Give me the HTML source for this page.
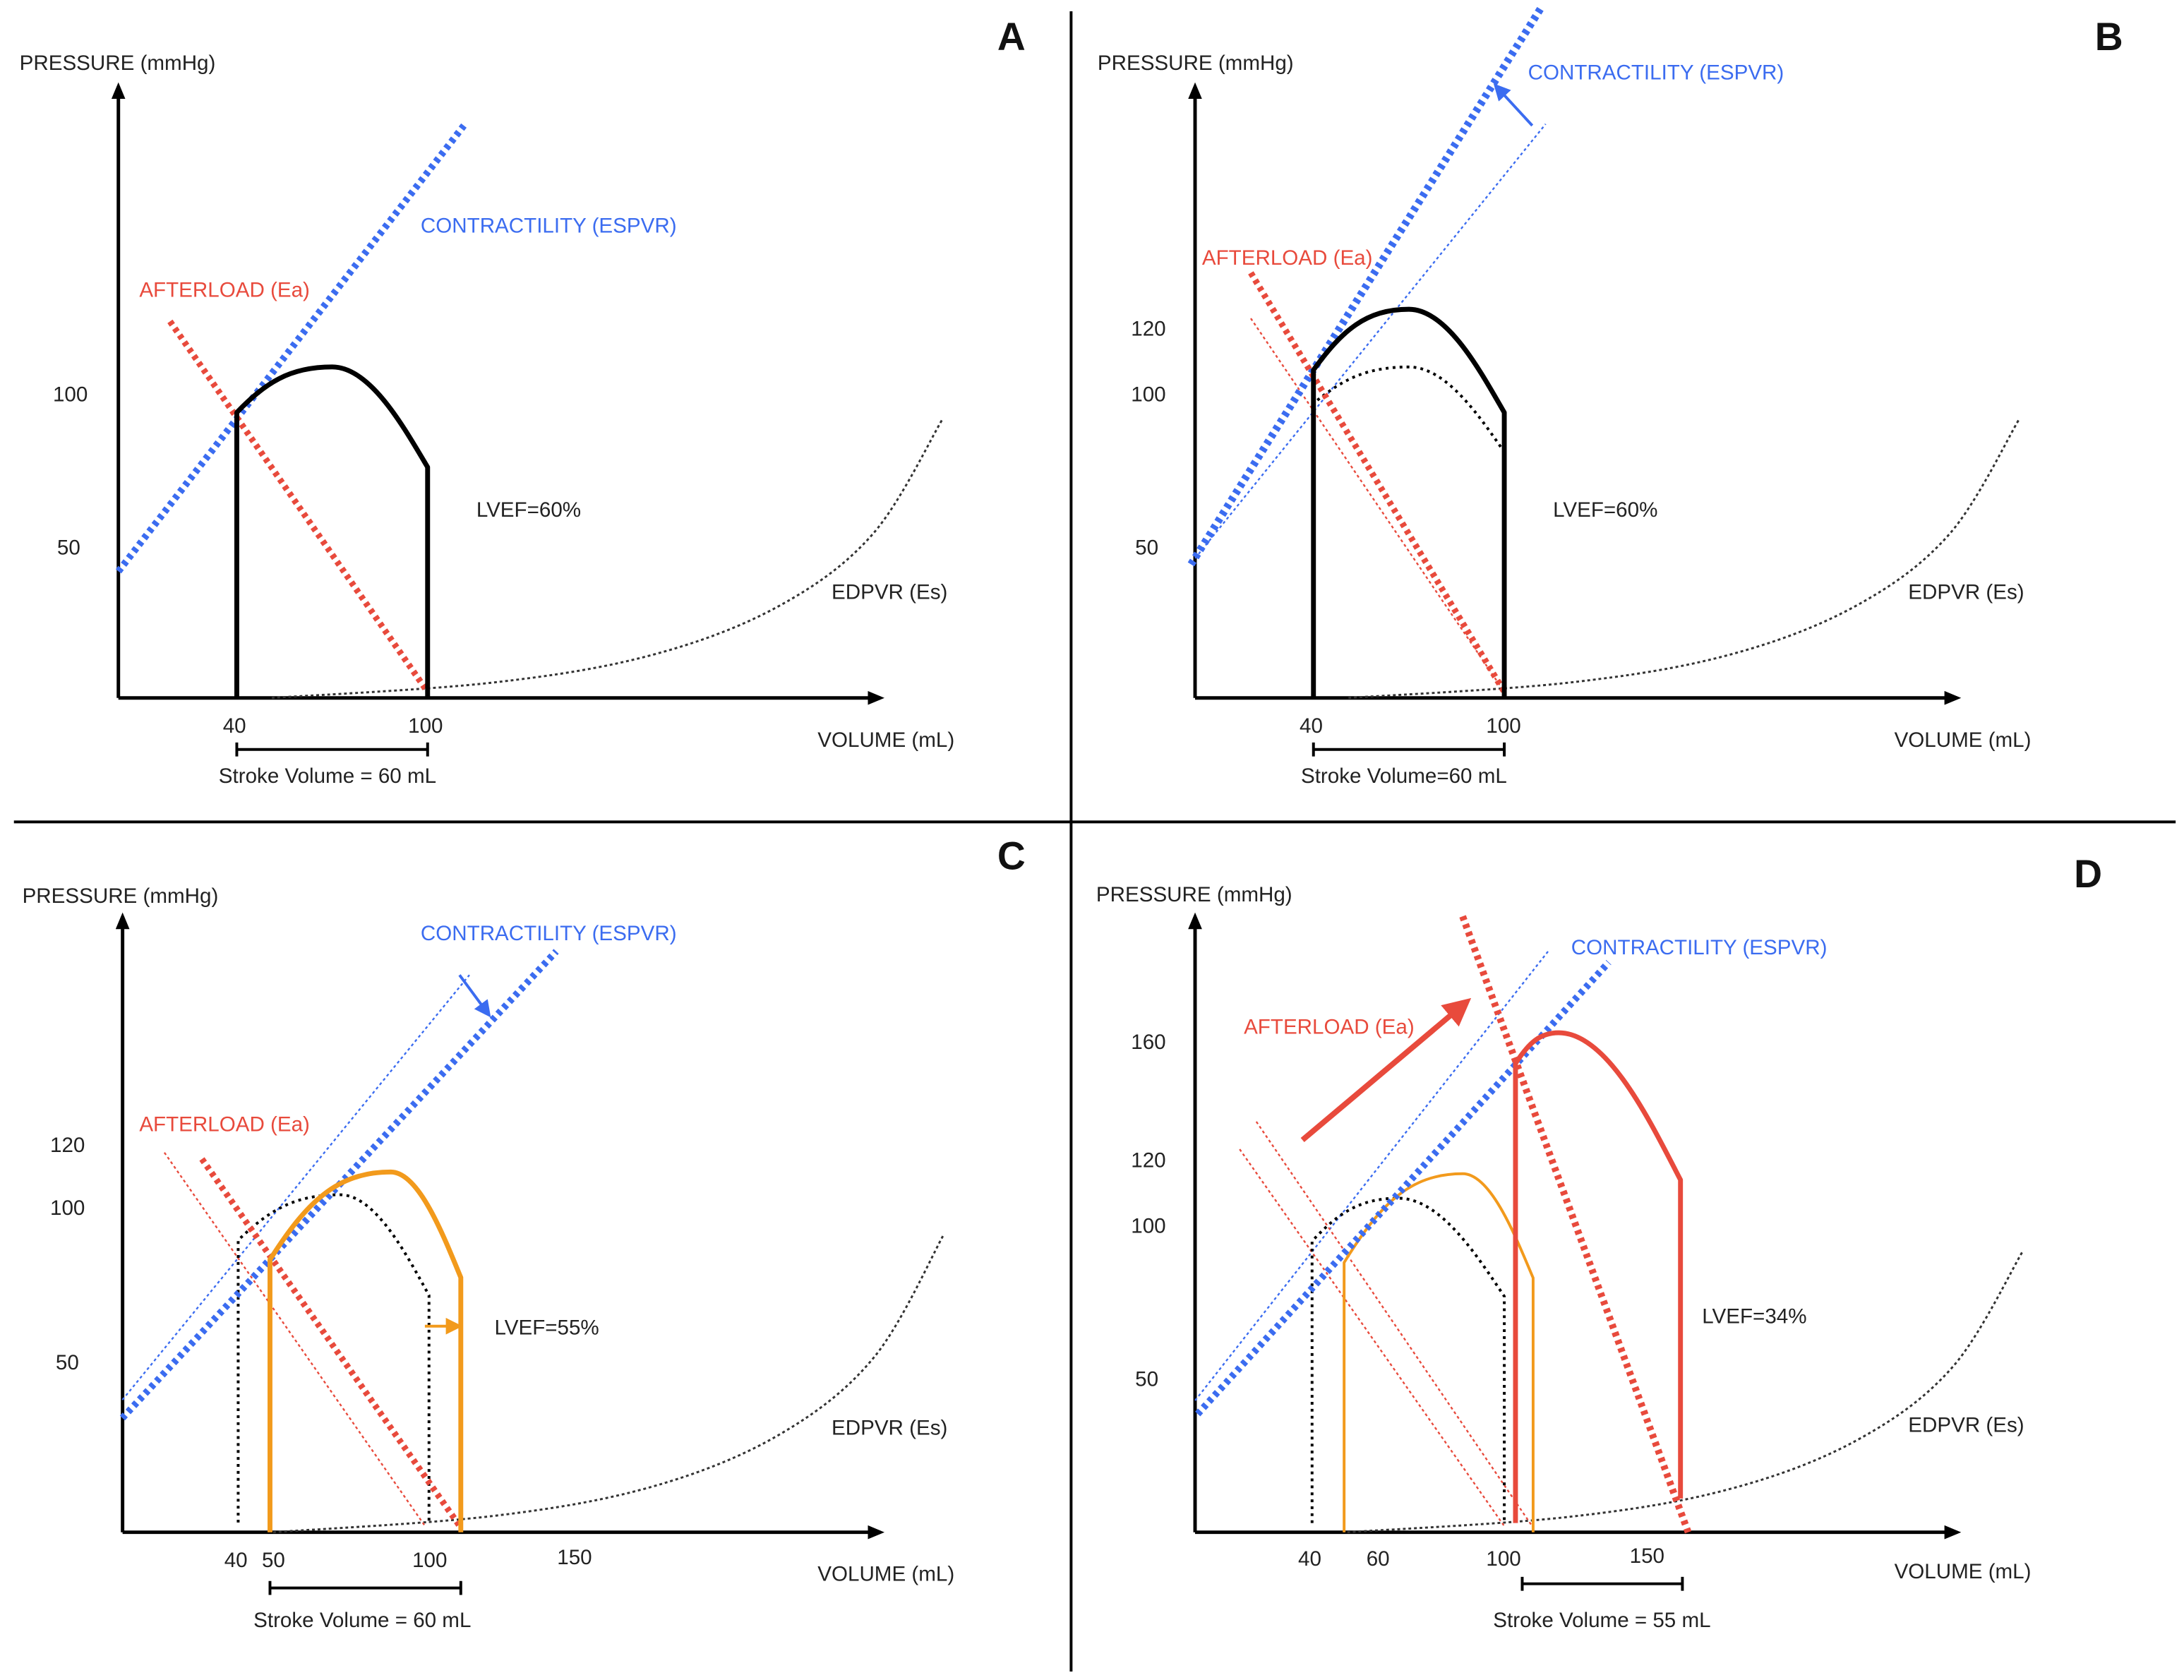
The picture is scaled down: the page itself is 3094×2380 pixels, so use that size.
<!DOCTYPE html>
<html><head><meta charset="utf-8">
<style>
html,body{margin:0;padding:0;background:#fff;}
svg{display:block;}
text{font-family:"Liberation Sans",sans-serif;font-size:15px;fill:#222;}
.blue{fill:#3b6cf0;} .red{fill:#e84a3c;}
.big{font-size:28px;font-weight:bold;fill:#111;}
</style></head>
<body>
<svg id="fig" width="3094" height="2380" viewBox="0 0 1568 1206" xmlns="http://www.w3.org/2000/svg">
<defs>
<marker id="ah" markerWidth="12" markerHeight="10" refX="9" refY="5" orient="auto" markerUnits="userSpaceOnUse"><path d="M0,0 L12,5 L0,10 z" fill="#000"/></marker>
<marker id="ahb" markerWidth="6" markerHeight="6" refX="4" refY="3" orient="auto"><path d="M0,0 L6,3 L0,6 z" fill="#3b6cf0"/></marker>
<marker id="aho" markerWidth="6" markerHeight="6" refX="4" refY="3" orient="auto"><path d="M0,0 L6,3 L0,6 z" fill="#f29a1c"/></marker>
<marker id="ahr" markerWidth="5" markerHeight="5" refX="3" refY="2.5" orient="auto"><path d="M0,0 L5,2.5 L0,5 z" fill="#e84a3c"/></marker>
</defs>
<line x1="769" y1="8" x2="769" y2="1200" stroke="#000" stroke-width="2"/>
<line x1="10" y1="590" x2="1562" y2="590" stroke="#000" stroke-width="2"/>
<g id="layer"></g>
<text x="14" y="50">PRESSURE (mmHg)</text>
<text class="big" x="716" y="36">A</text>
<text class="blue" x="302" y="167">CONTRACTILITY (ESPVR)</text>
<text class="red" x="100" y="213">AFTERLOAD (Ea)</text>
<text x="38" y="288">100</text>
<text x="41" y="398">50</text>
<text x="342" y="371">LVEF=60%</text>
<text x="597" y="430">EDPVR (Es)</text>
<text x="160" y="526">40</text>
<text x="293" y="526">100</text>
<text x="587" y="536">VOLUME (mL)</text>
<text x="157" y="562">Stroke Volume = 60 mL</text>
<text x="788" y="50">PRESSURE (mmHg)</text>
<text class="big" x="1504" y="36">B</text>
<text class="blue" x="1097" y="57">CONTRACTILITY (ESPVR)</text>
<text class="red" x="863" y="190">AFTERLOAD (Ea)</text>
<text x="812" y="241">120</text>
<text x="812" y="288">100</text>
<text x="815" y="398">50</text>
<text x="1115" y="371">LVEF=60%</text>
<text x="1370" y="430">EDPVR (Es)</text>
<text x="933" y="526">40</text>
<text x="1067" y="526">100</text>
<text x="1360" y="536">VOLUME (mL)</text>
<text x="934" y="562">Stroke Volume=60 mL</text>
<text x="16" y="648">PRESSURE (mmHg)</text>
<text class="big" x="716" y="624">C</text>
<text class="blue" x="302" y="675">CONTRACTILITY (ESPVR)</text>
<text class="red" x="100" y="812">AFTERLOAD (Ea)</text>
<text x="36" y="827">120</text>
<text x="36" y="872">100</text>
<text x="40" y="983">50</text>
<text x="355" y="958">LVEF=55%</text>
<text x="597" y="1030">EDPVR (Es)</text>
<text x="161" y="1125">40</text>
<text x="188" y="1125">50</text>
<text x="296" y="1125">100</text>
<text x="400" y="1123">150</text>
<text x="587" y="1135">VOLUME (mL)</text>
<text x="182" y="1168">Stroke Volume = 60 mL</text>
<text x="787" y="647">PRESSURE (mmHg)</text>
<text class="big" x="1489" y="637">D</text>
<text class="blue" x="1128" y="685">CONTRACTILITY (ESPVR)</text>
<text class="red" x="893" y="742">AFTERLOAD (Ea)</text>
<text x="812" y="753">160</text>
<text x="812" y="838">120</text>
<text x="812" y="885">100</text>
<text x="815" y="995">50</text>
<text x="1222" y="950">LVEF=34%</text>
<text x="1370" y="1028">EDPVR (Es)</text>
<text x="932" y="1124">40</text>
<text x="981" y="1124">60</text>
<text x="1067" y="1124">100</text>
<text x="1170" y="1122">150</text>
<text x="1360" y="1133">VOLUME (mL)</text>
<text x="1072" y="1168">Stroke Volume = 55 mL</text>
</svg>
<script>
// loops: [esv, pBottomLeft, pTopLeft, peakV, peakP, edv, pTopRight, pBottomRight]
const loopA = [40,0,94,70,109,100,76,0];
const loopB = [40,0,108,70,128,100,94,0];
const loopBprev = [40,0,97,70,109,100,81,0];
const loopC = [50,0,84,88,111,110,78.5,0];
const loopCprev = [40,3,90,72,104,100,73,3];
const loopD = [50,0,88,87,117,109,83,0];
const loopDprev = [40,3,95,67,109,100,77,3];
const loopDnew = [103.5,3,153,117,163,155,115,11];
// lines: [v1,p1,v2,p2]
const espvrA = [2.8,41.7,111.4,188.5];
const afterA = [19,124,100,2];
const espvrB = [1.5,44,112,228];
const espvrBprev = [2.8,46,113,189];
const afterB = [20.3,140,100,2];
const afterBprev = [20.3,125,100,2];
const espvrC = [3.6,35.2,140,179];
const espvrCprev = [3.6,40.8,112.7,171.7];
const afterC = [28.6,115,109.6,2];
const afterCprev = [16.8,117,98.7,2];
const espvrD = [4.3,38.6,132.6,186];
const espvrDprev = [3.5,43,114,190];
const afterD = [87,201,157.4,0];
const afterDprev1 = [17.4,125,100,2];
const afterDprev2 = [22.6,134,108.7,2];
// edpvr curves
const edpvrVol = [51,120,170,210,240,262];
const edpvrP = [0,5,14,30,54,92];
// arrows
const arrowB = [108.8,188.5,97.8,201];
const arrowCblue = [109.6,171.7,118.4,160];
const arrowCorange = [98.7,63.5,108.8,63.5];
const arrowD = [37,128,87,172];
// stroke volume brackets [vStart, vEnd]
const svA=[40,100], svB=[40,100], svC=[50,110], svD=[105.6,155.6];

const NS="http://www.w3.org/2000/svg";
const layer=document.getElementById('layer');
function mk(tag,attrs,name){const e=document.createElementNS(NS,tag);for(const k in attrs)e.setAttribute(k,attrs[k]);


layer.appendChild(e);return e;}
function axes(x40,x100,y0,y100){const sx=(x100-x40)/60,sy=(y0-y100)/100;
 return {x:v=>x40+(v-40)*sx,y:p=>y0-p*sy};}
const PA=axes(170,307,501,283), PB=axes(943,1080,501,283), PC=axes(171,308,1100,867), PD=axes(942,1080,1100,880);

function axisLines(ox,oy,top,right,n){
 mk('line',{x1:ox,y1:oy,x2:ox,y2:top,stroke:'#000','stroke-width':2.5,'marker-end':'url(#ah)'},n+'-y-axis');
 mk('line',{x1:ox,y1:oy,x2:right,y2:oy,stroke:'#000','stroke-width':2.5,'marker-end':'url(#ah)'},n+'-x-axis');}
axisLines(85,501,62,632,'panel-a');axisLines(858,501,62,1405,'panel-b');
axisLines(88,1100,658,632,'panel-c');axisLines(858,1100,658,1405,'panel-d');

function line(P,d,color,w,dash,name){mk('line',{x1:P.x(d[0]),y1:P.y(d[1]),x2:P.x(d[2]),y2:P.y(d[3]),stroke:color,'stroke-width':w,'stroke-dasharray':dash},name);}
function loop(P,L,color,w,dash,name){
 const [esv,pbl,ptl,pv,pp,edv,ptr,pbr]=L;
 const xl=P.x(esv),xp=P.x(pv),xr=P.x(edv),yt=P.y(ptl),yp=P.y(pp),yr=P.y(ptr);
 const d=`M${xl},${P.y(pbl)} L${xl},${yt} C${xl+(xp-xl)*0.3},${yp+(yt-yp)*0.35} ${xp-(xp-xl)*0.45},${yp} ${xp},${yp} C${xp+(xr-xp)*0.4},${yp} ${xr-(xr-xp)*0.25},${yr-(yr-yp)*0.4} ${xr},${yr} L${xr},${P.y(pbr)}`;
 const a={d:d,fill:'none',stroke:color,'stroke-width':w,'stroke-linejoin':'round'};if(dash)a['stroke-dasharray']=dash;
 mk('path',a,name);}
function edpvr(P,name){let pts=edpvrVol.map((v,i)=>[P.x(v),P.y(edpvrP[i])]);
 let d=`M${pts[0][0]},${pts[0][1]}`;
 for(let i=1;i<pts.length;i++){const p0=pts[i-2]||pts[i-1],p1=pts[i-1],p2=pts[i],p3=pts[i+1]||pts[i];
  d+=` C${p1[0]+(p2[0]-p0[0])/6},${p1[1]+(p2[1]-p0[1])/6} ${p2[0]-(p3[0]-p1[0])/6},${p2[1]-(p3[1]-p1[1])/6} ${p2[0]},${p2[1]}`;}
 mk('path',{d:d,fill:'none',stroke:'#333','stroke-width':1.5,'stroke-dasharray':'2 2'},name);}
function arrow(P,d,color,w,m,name){mk('line',{x1:P.x(d[0]),y1:P.y(d[1]),x2:P.x(d[2]),y2:P.y(d[3]),stroke:color,'stroke-width':w,'marker-end':m},name);}
function bracket(P,s,y,name){const a=P.x(s[0]),b=P.x(s[1]);
 mk('path',{d:`M${a},${y-5} L${a},${y+5} M${a},${y} L${b},${y} M${b},${y-5} L${b},${y+5}`,stroke:'#000','stroke-width':2,fill:'none'},name);}

const B='#3b6cf0',R='#e84a3c',O='#f29a1c',K='#000';
edpvr(PA,'panel-a-edpvr');
line(PA,espvrA,B,5,'3 3','panel-a-espvr-line');
line(PA,afterA,R,4.5,'3 3','panel-a-afterload-line');
loop(PA,loopA,K,3.5,null,'panel-a-pv-loop');
bracket(PA,svA,538,'panel-a-stroke-volume-bracket');
edpvr(PB,'panel-b-edpvr');
line(PB,espvrBprev,B,1.2,'2 2','panel-b-espvr-baseline');
line(PB,afterBprev,R,1.2,'2 2','panel-b-afterload-baseline');
loop(PB,loopBprev,K,2,'2 3','panel-b-baseline-loop');
line(PB,espvrB,B,5.5,'3 3','panel-b-espvr-line');
line(PB,afterB,R,4.5,'3 3','panel-b-afterload-line');
loop(PB,loopB,K,3.5,null,'panel-b-pv-loop');
arrow(PB,arrowB,B,2,'url(#ahb)','panel-b-contractility-arrow');
bracket(PB,svB,538,'panel-b-stroke-volume-bracket');
edpvr(PC,'panel-c-edpvr');
line(PC,espvrCprev,B,1.2,'2 2','panel-c-espvr-baseline');
line(PC,afterCprev,R,1.2,'2 2','panel-c-afterload-baseline');
loop(PC,loopCprev,K,2,'2 3','panel-c-baseline-loop');
line(PC,espvrC,B,5,'3 3','panel-c-espvr-line');
line(PC,afterC,R,4.5,'3 3','panel-c-afterload-line');
loop(PC,loopC,O,3.5,null,'panel-c-pv-loop');
arrow(PC,arrowCblue,B,2,'url(#ahb)','panel-c-contractility-arrow');
arrow(PC,arrowCorange,O,2,'url(#aho)','panel-c-volume-arrow');
bracket(PC,svC,1140,'panel-c-stroke-volume-bracket');
edpvr(PD,'panel-d-edpvr');
line(PD,espvrDprev,B,1.2,'2 2','panel-d-espvr-baseline');
line(PD,afterDprev1,R,1.2,'2 2','panel-d-afterload-baseline-1');
line(PD,afterDprev2,R,1.2,'2 2','panel-d-afterload-baseline-2');
loop(PD,loopDprev,K,2,'2 3','panel-d-baseline-loop');
loop(PD,loopD,O,2,null,'panel-d-previous-loop');
line(PD,espvrD,B,5,'3 3','panel-d-espvr-line');
line(PD,afterD,R,5,'3 3','panel-d-afterload-line');
loop(PD,loopDnew,R,3.5,null,'panel-d-pv-loop');
arrow(PD,arrowD,R,4,'url(#ahr)','panel-d-afterload-arrow');
bracket(PD,svD,1137,'panel-d-stroke-volume-bracket');
</script>
</body></html>
